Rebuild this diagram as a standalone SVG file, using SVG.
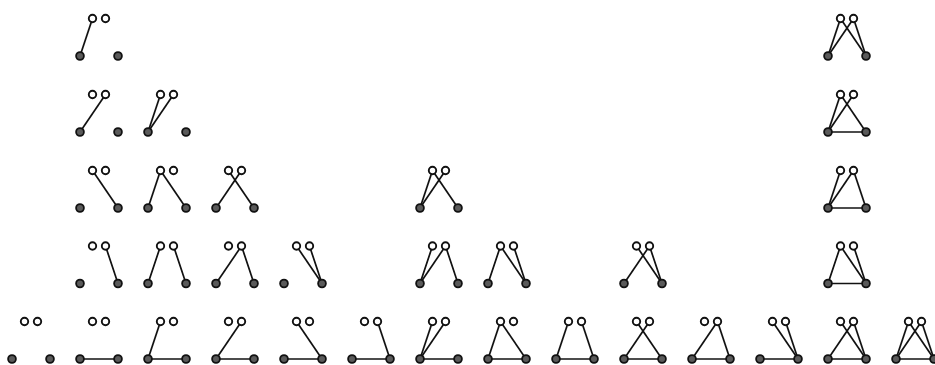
<svg xmlns="http://www.w3.org/2000/svg" xmlns:xlink="http://www.w3.org/1999/xlink" width="935" height="365" viewBox="0 0 935 365">
<style>
.e{stroke:#111;stroke-width:1.7;fill:none}
.o{fill:#fff;stroke:#111;stroke-width:1.9}
.f{fill:#5a5a5a;stroke:#111;stroke-width:1.8}
</style>
<defs>
<line id="aL" class="e" x1="12.5" y1="-37.5" x2="0" y2="0"/>
<line id="bL" class="e" x1="25.5" y1="-37.5" x2="0" y2="0"/>
<line id="aR" class="e" x1="12.5" y1="-37.5" x2="38" y2="0"/>
<line id="bR" class="e" x1="25.5" y1="-37.5" x2="38" y2="0"/>
<line id="LR" class="e" x1="0" y1="0" x2="38" y2="0"/>
<g id="v">
<circle class="o" cx="12.5" cy="-37.5" r="3.7"/>
<circle class="o" cx="25.5" cy="-37.5" r="3.7"/>
<circle class="f" cx="0" cy="0" r="3.9"/>
<circle class="f" cx="38" cy="0" r="3.9"/>
</g>
</defs>
<rect width="935" height="365" fill="#fff"/>
<!-- Row 1 -->
<g id="r1c80" transform="translate(80,56)"><g class="edges"><use href="#aL"/></g><use href="#v"/></g>
<g id="r1c828" transform="translate(828,56)"><g class="edges"><use href="#aL"/><use href="#bL"/><use href="#aR"/><use href="#bR"/></g><use href="#v"/></g>
<!-- Row 2 -->
<g id="r2c80" transform="translate(80,132)"><g class="edges"><use href="#bL"/></g><use href="#v"/></g>
<g id="r2c148" transform="translate(148,132)"><g class="edges"><use href="#aL"/><use href="#bL"/></g><use href="#v"/></g>
<g id="r2c828" transform="translate(828,132)"><g class="edges"><use href="#aL"/><use href="#bL"/><use href="#aR"/><use href="#LR"/></g><use href="#v"/></g>
<!-- Row 3 -->
<g id="r3c80" transform="translate(80,208)"><g class="edges"><use href="#aR"/></g><use href="#v"/></g>
<g id="r3c148" transform="translate(148,208)"><g class="edges"><use href="#aL"/><use href="#aR"/></g><use href="#v"/></g>
<g id="r3c216" transform="translate(216,208)"><g class="edges"><use href="#aR"/><use href="#bL"/></g><use href="#v"/></g>
<g id="r3c420" transform="translate(420,208)"><g class="edges"><use href="#aL"/><use href="#bL"/><use href="#aR"/></g><use href="#v"/></g>
<g id="r3c828" transform="translate(828,208)"><g class="edges"><use href="#aL"/><use href="#bL"/><use href="#bR"/><use href="#LR"/></g><use href="#v"/></g>
<!-- Row 4 -->
<g id="r4c80" transform="translate(80,283.5)"><g class="edges"><use href="#bR"/></g><use href="#v"/></g>
<g id="r4c148" transform="translate(148,283.5)"><g class="edges"><use href="#aL"/><use href="#bR"/></g><use href="#v"/></g>
<g id="r4c216" transform="translate(216,283.5)"><g class="edges"><use href="#bL"/><use href="#bR"/></g><use href="#v"/></g>
<g id="r4c284" transform="translate(284,283.5)"><g class="edges"><use href="#aR"/><use href="#bR"/></g><use href="#v"/></g>
<g id="r4c420" transform="translate(420,283.5)"><g class="edges"><use href="#aL"/><use href="#bL"/><use href="#bR"/></g><use href="#v"/></g>
<g id="r4c488" transform="translate(488,283.5)"><g class="edges"><use href="#aL"/><use href="#aR"/><use href="#bR"/></g><use href="#v"/></g>
<g id="r4c624" transform="translate(624,283.5)"><g class="edges"><use href="#bL"/><use href="#aR"/><use href="#bR"/></g><use href="#v"/></g>
<g id="r4c828" transform="translate(828,283.5)"><g class="edges"><use href="#aL"/><use href="#aR"/><use href="#bR"/><use href="#LR"/></g><use href="#v"/></g>
<!-- Row 5 -->
<g id="r5c12" transform="translate(12,359)"><g class="edges"></g><use href="#v"/></g>
<g id="r5c80" transform="translate(80,359)"><g class="edges"><use href="#LR"/></g><use href="#v"/></g>
<g id="r5c148" transform="translate(148,359)"><g class="edges"><use href="#aL"/><use href="#LR"/></g><use href="#v"/></g>
<g id="r5c216" transform="translate(216,359)"><g class="edges"><use href="#bL"/><use href="#LR"/></g><use href="#v"/></g>
<g id="r5c284" transform="translate(284,359)"><g class="edges"><use href="#aR"/><use href="#LR"/></g><use href="#v"/></g>
<g id="r5c352" transform="translate(352,359)"><g class="edges"><use href="#bR"/><use href="#LR"/></g><use href="#v"/></g>
<g id="r5c420" transform="translate(420,359)"><g class="edges"><use href="#aL"/><use href="#bL"/><use href="#LR"/></g><use href="#v"/></g>
<g id="r5c488" transform="translate(488,359)"><g class="edges"><use href="#aL"/><use href="#aR"/><use href="#LR"/></g><use href="#v"/></g>
<g id="r5c556" transform="translate(556,359)"><g class="edges"><use href="#aL"/><use href="#bR"/><use href="#LR"/></g><use href="#v"/></g>
<g id="r5c624" transform="translate(624,359)"><g class="edges"><use href="#bL"/><use href="#aR"/><use href="#LR"/></g><use href="#v"/></g>
<g id="r5c692" transform="translate(692,359)"><g class="edges"><use href="#bL"/><use href="#bR"/><use href="#LR"/></g><use href="#v"/></g>
<g id="r5c760" transform="translate(760,359)"><g class="edges"><use href="#aR"/><use href="#bR"/><use href="#LR"/></g><use href="#v"/></g>
<g id="r5c828" transform="translate(828,359)"><g class="edges"><use href="#bL"/><use href="#aR"/><use href="#bR"/><use href="#LR"/></g><use href="#v"/></g>
<g id="r5c896" transform="translate(896,359)"><g class="edges"><use href="#aL"/><use href="#bL"/><use href="#aR"/><use href="#bR"/><use href="#LR"/></g><use href="#v"/></g>
</svg>
